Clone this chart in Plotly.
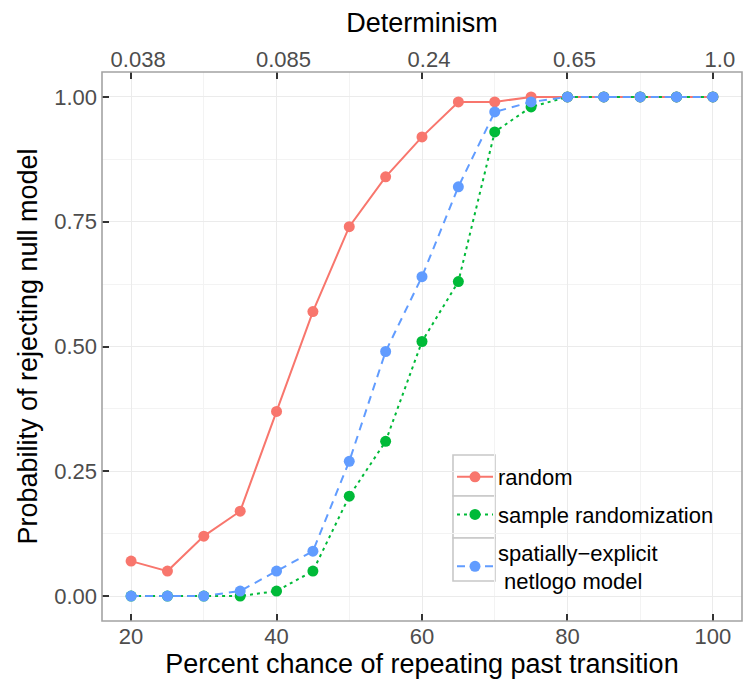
import plotly.graph_objects as go

# Percent chance of repeating past transition
pct = [20, 25, 30, 35, 40, 45, 50, 55, 60, 65, 70, 75, 80, 85, 90, 95, 100]

# Probability of rejecting the null model, per null-model type
random_null = [0.07, 0.05, 0.12, 0.17, 0.37, 0.57, 0.74, 0.84, 0.92, 0.99, 0.99, 1.00, 1.00, 1.00, 1.00, 1.00, 1.00]
sample_rand = [0.00, 0.00, 0.00, 0.00, 0.01, 0.05, 0.20, 0.31, 0.51, 0.63, 0.93, 0.98, 1.00, 1.00, 1.00, 1.00, 1.00]
netlogo = [0.00, 0.00, 0.00, 0.01, 0.05, 0.09, 0.27, 0.49, 0.64, 0.82, 0.97, 0.99, 1.00, 1.00, 1.00, 1.00, 1.00]

# Bottom and top axis ticks
x_ticks = [20, 40, 60, 80, 100]
determinism_labels = ["0.038", "0.085", "0.24", "0.65", "1.0"]
y_ticks = [0.0, 0.25, 0.50, 0.75, 1.00]
y_labels = ["0.00", "0.25", "0.50", "0.75", "1.00"]

series = [
    ("random", random_null, "#F8766D", "solid"),
    ("sample randomization", sample_rand, "#00BA38", "3px,4px"),
    ("spatially\u2212explicit<br> netlogo model", netlogo, "#619CFF", "8px,6px"),
]

FONT = "Liberation Sans, Arial, sans-serif"
TICK_FONT = dict(family=FONT, size=22, color="#4D4D4D")
TITLE_FONT = dict(family=FONT, size=27, color="black")

# plot area in pixels, used to place legend decorations
L, R, T, B = 102, 742, 72, 621


def px_x(p):
    return (p - L) / (R - L)


def px_y(p):
    return (B - p) / (B - T)


fig = go.Figure()
for i, (name, vals, color, dash) in enumerate(series):
    fig.add_trace(go.Scatter(
        x=pct, y=vals, name=name, mode="lines+markers", legendgroup=f"g{i}",
        line=dict(color=color, width=2, dash=dash),
        marker=dict(color=color, size=11),
    ))

# invisible trace to activate the top axis
fig.add_trace(go.Scatter(x=[20, 100], y=[0, 0], xaxis="x2", mode="markers",
                         marker=dict(opacity=0), showlegend=False, hoverinfo="skip"))

axis_common = dict(
    zeroline=False, ticks="inside", ticklen=7, tickwidth=1.5, tickcolor="#333333",
    tickfont=TICK_FONT, showline=False,
)

fig.update_layout(
    width=744, height=689,
    margin=dict(l=L, r=744 - R, t=T, b=689 - B),
    paper_bgcolor="white", plot_bgcolor="white",
    font=dict(family=FONT),
    xaxis=dict(
        range=[16, 104], tickvals=x_ticks,
        showgrid=True, gridcolor="#EBEBEB", gridwidth=1.2,
        minor=dict(dtick=10, tick0=0, showgrid=True, gridcolor="#F3F3F3", gridwidth=1, ticks=""),
        title=dict(text="Percent chance of repeating past transition", font=TITLE_FONT, standoff=6),
        **axis_common,
    ),
    xaxis2=dict(
        overlaying="x", side="top", range=[16, 104], showgrid=False,
        tickvals=x_ticks, ticktext=determinism_labels, ticklabelshift=7,
        title=dict(text="Determinism", font=TITLE_FONT, standoff=6),
        **axis_common,
    ),
    yaxis=dict(
        range=[-0.05, 1.05], tickvals=y_ticks, ticktext=y_labels, ticklabelstandoff=4,
        showgrid=True, gridcolor="#EBEBEB", gridwidth=1.2,
        minor=dict(dtick=0.125, tick0=0, showgrid=True, gridcolor="#F3F3F3", gridwidth=1, ticks=""),
        title=dict(text="Probability of rejecting null model", font=TITLE_FONT, standoff=8),
        **axis_common,
    ),
    legend=dict(
        x=px_x(452), y=px_y(456), xanchor="left", yanchor="top",
        bgcolor="rgba(0,0,0,0)", borderwidth=0,
        font=dict(family=FONT, size=22, color="black"),
        tracegroupgap=6, itemwidth=36,
    ),
    showlegend=True,
)

# white legend background covering the grid
fig.add_shape(type="rect", xref="paper", yref="paper",
              x0=px_x(445), x1=px_x(738), y0=px_y(590), y1=px_y(437),
              line=dict(width=0), fillcolor="white", layer="between")

# legend key boxes
for top, bottom in [(455, 496), (496, 538), (538, 581)]:
    fig.add_shape(type="rect", xref="paper", yref="paper",
                  x0=px_x(453), x1=px_x(495), y0=px_y(bottom), y1=px_y(top),
                  line=dict(color="#C8C8C8", width=1.6), fillcolor="white", layer="between")

# panel border
fig.add_shape(type="rect", xref="paper", yref="paper", x0=0, y0=0, x1=1, y1=1,
              line=dict(color="#A3A3A3", width=1.6), fillcolor="rgba(0,0,0,0)", layer="above")

fig.write_html("out.html")
